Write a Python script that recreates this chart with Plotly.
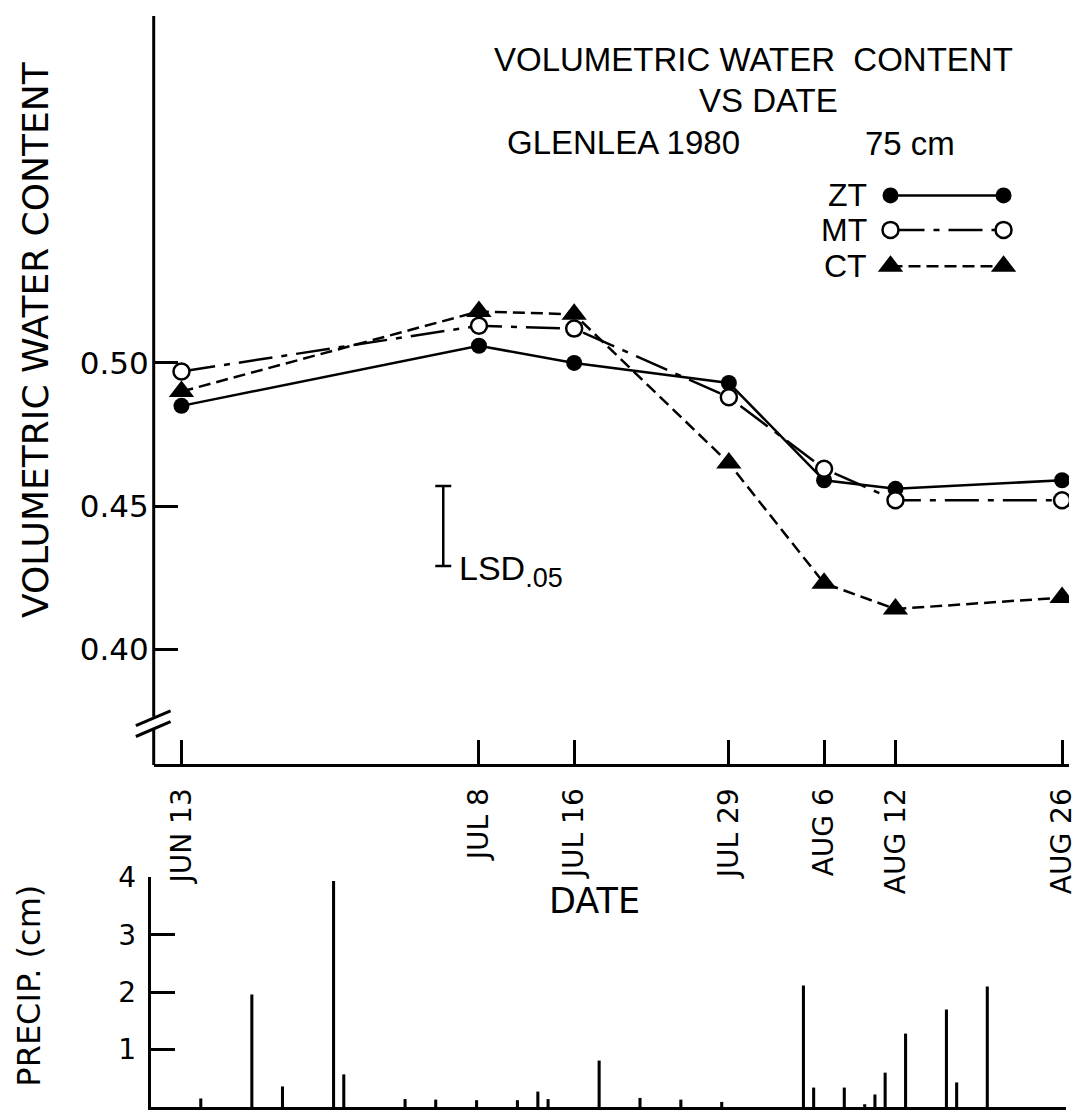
import pandas as pd
import plotly.graph_objects as go

W, H = 1078, 1114

# ---- soil water content at 75 cm, Glenlea 1980 ----
sample_dates = ["1980-06-13", "1980-07-08", "1980-07-16", "1980-07-29",
                "1980-08-06", "1980-08-12", "1980-08-26"]
date_labels = ["JUN 13", "JUL 8", "JUL 16", "JUL 29", "AUG 6", "AUG 12", "AUG 26"]
zt_vwc = [0.485, 0.506, 0.500, 0.493, 0.459, 0.456, 0.459]
mt_vwc = [0.497, 0.513, 0.512, 0.488, 0.463, 0.452, 0.452]
ct_vwc = [0.490, 0.518, 0.517, 0.465, 0.423, 0.414, 0.418]
vwc_ticks = [0.40, 0.45, 0.50]

# least significant difference (P = 0.05)
lsd_date = "1980-07-05"
lsd_centre = 0.443
lsd_05 = 0.028

# ---- daily precipitation ----
rain_dates = ["1980-06-05", "1980-06-10", "1980-06-13", "1980-06-18", "1980-06-19",
              "1980-06-25", "1980-06-28", "1980-07-02", "1980-07-06", "1980-07-08",
              "1980-07-09", "1980-07-14", "1980-07-18", "1980-07-22", "1980-07-26",
              "1980-08-03", "1980-08-04", "1980-08-07", "1980-08-09", "1980-08-10",
              "1980-08-11", "1980-08-13", "1980-08-17", "1980-08-18", "1980-08-21"]
rain_cm = [0.15, 1.96, 0.36, 3.94, 0.57, 0.14, 0.13, 0.12, 0.12, 0.27,
           0.14, 0.81, 0.16, 0.13, 0.09, 2.12, 0.34, 0.34, 0.05, 0.22,
           0.60, 1.28, 1.70, 0.43, 2.10]
rain_ticks = [1, 2, 3, 4]


def px(x):
    return x / W


def py(y):
    return 1 - y / H


INK = "black"
LABEL_FONT = "DejaVu Sans, Verdana, sans-serif"
LETTER_FONT = "Liberation Sans, Arial, sans-serif"

ZT_STYLE = dict(line=dict(color=INK, width=2.5),
                marker=dict(symbol="circle", size=16, color=INK))
MT_STYLE = dict(line=dict(color=INK, width=2.5, dash="34px,9px,6px,9px"),
                marker=dict(symbol="circle", size=16, color="white",
                            line=dict(color=INK, width=2.5)))
CT_STYLE = dict(line=dict(color=INK, width=2.5, dash="12px,6px"),
                marker=dict(symbol="triangle-up", size=22, color=INK))

fig = go.Figure()

fig.add_trace(go.Scatter(x=sample_dates, y=zt_vwc, mode="lines+markers",
                         xaxis="x", yaxis="y", **ZT_STYLE))
fig.add_trace(go.Scatter(x=sample_dates, y=ct_vwc, mode="lines+markers",
                         xaxis="x", yaxis="y", **CT_STYLE))
fig.add_trace(go.Scatter(x=sample_dates, y=mt_vwc, mode="lines+markers",
                         xaxis="x", yaxis="y", **MT_STYLE))

# LSD bar
fig.add_trace(go.Scatter(x=[lsd_date], y=[lsd_centre], mode="markers",
                         marker=dict(size=1, color="rgba(0,0,0,0)"),
                         error_y=dict(type="data", array=[lsd_05 / 2], symmetric=True,
                                      color=INK, thickness=2.5, width=8),
                         xaxis="x", yaxis="y"))

# precipitation spikes
day_ms = 86400000
fig.add_trace(go.Bar(x=rain_dates, y=rain_cm, width=[0.3 * day_ms] * len(rain_dates),
                     marker=dict(color=INK, line=dict(width=0)),
                     xaxis="x2", yaxis="y2"))

# key: marker - line - marker for each tillage system
key_rows = [("ZT", 182, ZT_STYLE), ("MT", 217, MT_STYLE), ("CT", 254, CT_STYLE)]
key_x0, key_x1 = 898, 1012
annotations = []
for name, yk, style in key_rows:
    fig.add_trace(go.Scatter(x=[key_x0, key_x1], y=[yk, yk], mode="lines+markers",
                             xaxis="x3", yaxis="y3", cliponaxis=False, **style))
    annotations.append(dict(text=name, x=px(876), y=py(yk), xref="paper", yref="paper",
                            xanchor="right", yanchor="middle", showarrow=False,
                            font=dict(family=LETTER_FONT, size=32, color=INK)))

# heading lines
for text, xc, yc in [("VOLUMETRIC WATER  CONTENT", 760, 44), ("VS DATE", 775, 86),
                     ("GLENLEA 1980", 629, 128), ("75 cm", 918, 129)]:
    annotations.append(dict(text=text, x=px(xc), y=py(yc), xref="paper", yref="paper",
                            xanchor="center", yanchor="middle", showarrow=False,
                            font=dict(family=LETTER_FONT, size=33, color=INK)))

annotations += [
    dict(text="LSD<sub><span style='font-size:27px'>.05</span></sub>",
         x=px(461), y=py(563), xref="paper", yref="paper",
         xanchor="left", yanchor="middle", showarrow=False,
         font=dict(family=LETTER_FONT, size=34, color=INK)),
    dict(text="VOLUMETRIC WATER CONTENT", x=px(36), y=py(328), xref="paper", yref="paper",
         textangle=-90, xanchor="center", yanchor="middle", showarrow=False,
         font=dict(family=LABEL_FONT, size=36, color=INK)),
    dict(text="PRECIP. (cm)", x=px(29), y=py(984), xref="paper", yref="paper",
         textangle=-90, xanchor="center", yanchor="middle", showarrow=False,
         font=dict(family=LABEL_FONT, size=32, color=INK)),
    dict(text="DATE", x=px(600), y=py(898), xref="paper", yref="paper",
         xanchor="center", yanchor="middle", showarrow=False,
         font=dict(family=LABEL_FONT, size=35, color=INK)),
]

# left axis of the water-content panel, broken near the bottom
axis_x = 155
shapes = [
    dict(type="line", xref="paper", yref="paper", x0=px(axis_x), x1=px(axis_x),
         y0=py(0), y1=py(711), line=dict(color=INK, width=3)),
    dict(type="line", xref="paper", yref="paper", x0=px(axis_x), x1=px(axis_x),
         y0=py(723), y1=py(760), line=dict(color=INK, width=3)),
    dict(type="line", xref="paper", yref="paper", x0=px(137), x1=px(172),
         y0=py(720), y1=py(705), line=dict(color=INK, width=3)),
    dict(type="line", xref="paper", yref="paper", x0=px(137), x1=px(172),
         y0=py(731), y1=py(716), line=dict(color=INK, width=3)),
]

fig.update_layout(
    width=W, height=H, margin=dict(l=0, r=0, t=0, b=0),
    paper_bgcolor="white", plot_bgcolor="rgba(0,0,0,0)", showlegend=False,
    xaxis=dict(domain=[px(axis_x), 1], type="date",
               range=["1980-06-10 16:00", "1980-08-26 14:00"],
               tickmode="array", tickvals=sample_dates, ticktext=date_labels,
               tickangle=-90, ticks="inside", ticklen=24, tickwidth=2.5, tickcolor=INK,
               ticklabelstandoff=10, ticklabeloverflow="allow",
               tickfont=dict(family=LABEL_FONT, size=28, color=INK),
               showline=True, linecolor=INK, linewidth=3, showgrid=False,
               zeroline=False, fixedrange=True),
    yaxis=dict(domain=[py(759), 1], range=[0.3598, 0.62125],
               tickmode="array", tickvals=vwc_ticks,
               ticktext=[f"{v:.2f}" for v in vwc_ticks],
               ticks="inside", ticklen=24, tickwidth=2.5, tickcolor=INK,
               ticklabelstandoff=4,
               tickfont=dict(family=LABEL_FONT, size=31, color=INK),
               showline=False, showgrid=False, zeroline=False, fixedrange=True),
    xaxis2=dict(domain=[px(152), px(1075)], anchor="y2", type="date",
                range=["1980-05-31 02:24", "1980-08-28 17:00"],
                showticklabels=False, ticks="", showline=True, linecolor=INK,
                linewidth=3, showgrid=False, zeroline=False, fixedrange=True),
    yaxis2=dict(domain=[py(1107), py(874)], anchor="x2", range=[0, 4],
                tickmode="array", tickvals=rain_ticks,
                ticks="inside", ticklen=24, tickwidth=2.5, tickcolor=INK,
                ticklabelstandoff=6,
                tickfont=dict(family=LABEL_FONT, size=28, color=INK),
                showline=True, linecolor=INK, linewidth=3, showgrid=False,
                zeroline=False, fixedrange=True),
    xaxis3=dict(domain=[0, 1], range=[0, W], anchor="y3", visible=False, fixedrange=True),
    yaxis3=dict(domain=[0, 1], range=[H, 0], anchor="x3", visible=False, fixedrange=True),
    annotations=annotations,
    shapes=shapes,
)

fig.write_html("out.html")
